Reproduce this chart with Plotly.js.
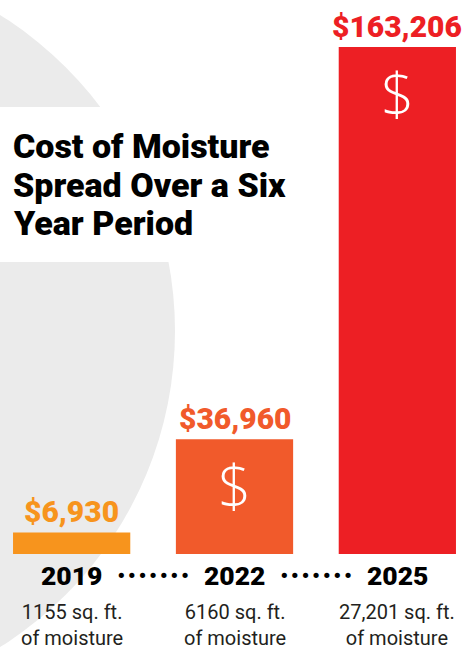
<!DOCTYPE html>
<html>
<head>
<meta charset="utf-8">
<script src="https://cdn.plot.ly/plotly-3.0.1.min.js"></script>
<style>html,body{margin:0;padding:0;background:#fff;}#chart{width:469px;height:650px;}</style>
</head>
<body>
<div id="chart"></div>
<script>
const titleLines = ["Cost of Moisture", "Spread Over a Six", "Year Period"];
const years = ["2019", "2022", "2025"];
const costs = [6930, 36960, 163206];
const costLabels = ["$6,930", "$36,960", "$163,206"];
const areaLabels = ["1155 sq. ft.<br>of moisture", "6160 sq. ft.<br>of moisture", "27,201 sq. ft.<br>of moisture"];
const barColors = ["#f7941d", "#f15a2b", "#ed1f24"];
const showDollar = [false, true, true];

const W = 469, H = 650;
const heavy = "Roboto, 'DejaVu Sans', sans-serif";
const idx = years.map((_, i) => i);

const annotations = [];
titleLines.forEach((t, k) => annotations.push({x: 11 / W, y: 1 - (124 + 38.5 * k) / H, xref: 'paper', yref: 'paper',
  text: t, showarrow: false, xanchor: 'left', yanchor: 'top',
  font: {family: heavy, size: 34, color: '#000000', weight: 900}}));
idx.forEach(i => {
  annotations.push({x: i, y: costs[i], xref: 'x', yref: 'y', text: costLabels[i], showarrow: false,
    yanchor: 'bottom', yshift: 1, font: {family: heavy, size: 30, color: barColors[i], weight: 900}});
  if (showDollar[i]) annotations.push({x: i, y: costs[i], xref: 'x', yref: 'y', text: '$', showarrow: false,
    yanchor: 'top', yshift: -4, font: {family: "'Open Sans', sans-serif", size: 58, color: '#ffffff', weight: 300}});
  annotations.push({x: i, y: 0, xref: 'x', yref: 'y', text: years[i], showarrow: false,
    yanchor: 'top', yshift: -4, font: {family: heavy, size: 26.5, color: '#000000', weight: 900}});
  annotations.push({x: i, y: 0, xref: 'x', yref: 'y', text: areaLabels[i], showarrow: false,
    yanchor: 'top', yshift: -44, font: {family: "Roboto, sans-serif", size: 20, color: '#231f20', weight: 400}});
});
[0.5, 1.5].forEach(x => annotations.push({x: x, y: 0, xref: 'x', yref: 'y', text: '•••••••', showarrow: false,
  yanchor: 'top', yshift: -9, font: {family: "'DejaVu Sans', sans-serif", size: 18, color: '#000000'}}));

// background decorative circle with a white band
const cx = -198, cy = 331, R = 373;
const shapes = [
  {type: 'circle', xref: 'paper', yref: 'paper', layer: 'below', line: {width: 0}, fillcolor: '#ebebeb',
   x0: (cx - R) / W, x1: (cx + R) / W, y0: 1 - (cy + R) / H, y1: 1 - (cy - R) / H},
  {type: 'rect', xref: 'paper', yref: 'paper', layer: 'below', line: {width: 0}, fillcolor: '#ffffff',
   x0: -0.05, x1: 230 / W, y0: 1 - 262 / H, y1: 1 - 107 / H}
];

const trace = {type: 'bar', x: idx, y: costs, marker: {color: barColors, line: {width: 0}},
  hoverinfo: 'skip', showlegend: false};

const layout = {
  width: W, height: H, margin: {l: 0, r: 0, t: 0, b: 0},
  paper_bgcolor: '#ffffff', plot_bgcolor: 'rgba(0,0,0,0)',
  bargap: 0.28,
  xaxis: {range: [-0.44, 2.44], visible: false, fixedrange: true},
  yaxis: {range: [-30904, 178336], visible: false, fixedrange: true},
  annotations: annotations,
  shapes: shapes
};

Plotly.newPlot('chart', [trace], layout, {displayModeBar: false, staticPlot: true});
</script>
</body>
</html>
